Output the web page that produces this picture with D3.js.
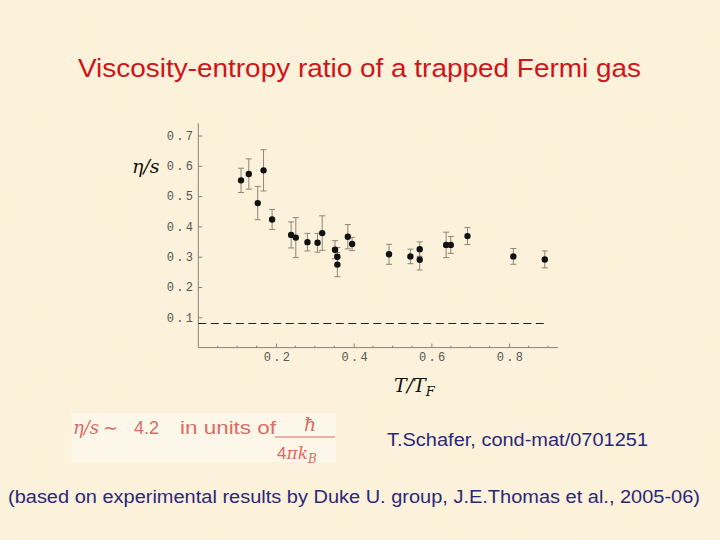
<!DOCTYPE html>
<html><head><meta charset="utf-8">
<script src="https://cdn.jsdelivr.net/npm/d3@7"></script>
<style>html,body{margin:0;padding:0;background:#fbefd5;}svg{display:block;}</style>
</head><body>
<script>
// ---- data ----
const tempRatio = [0.110,0.130,0.153,0.168,0.190,0.239,0.251,0.281,0.307,0.319,0.352,0.358,0.358,0.385,0.396,0.491,0.546,0.570,0.570,0.638,0.650,0.693,0.811,0.892];
const etaOverS  = [0.552,0.573,0.477,0.585,0.423,0.372,0.363,0.348,0.346,0.378,0.323,0.300,0.274,0.366,0.342,0.308,0.301,0.325,0.290,0.339,0.339,0.368,0.301,0.291];
const errors    = [0.040,0.050,0.055,0.068,0.033,0.043,0.066,0.029,0.031,0.057,0.030,0.030,0.040,0.040,0.022,0.033,0.024,0.024,0.034,0.042,0.028,0.028,0.026,0.028];
const xTicks = [0.2,0.4,0.6,0.8];
const yTicks = [0.1,0.2,0.3,0.4,0.5,0.6,0.7];
const kssBound = 1/(4*Math.PI);

const W=720,H=540;
const svg=d3.select("body").append("svg").attr("width",W).attr("height",H);
// background with subtle texture
const defs=svg.append("defs");
const f=defs.append("filter").attr("id","tex").attr("x",0).attr("y",0).attr("width","100%").attr("height","100%");
f.append("feTurbulence").attr("type","fractalNoise").attr("baseFrequency",0.03).attr("numOctaves",2).attr("seed",3).attr("result","n");
f.append("feColorMatrix").attr("in","n").attr("type","matrix")
 .attr("values","0 0 0 0 0.98  0 0 0 0 0.91  0 0 0 0 0.78  0 0 0 0.35 0").attr("result","c");
f.append("feComposite").attr("in","c").attr("in2","SourceGraphic").attr("operator","over");
svg.append("rect").attr("width",W).attr("height",H).attr("fill","#fcf2da");
svg.append("rect").attr("width",W).attr("height",H).attr("fill","#fcf2da").attr("filter","url(#tex)").attr("opacity",0.6);

const sans="Liberation Sans, Arial, sans-serif";
// title
svg.append("text").attr("x",78).attr("y",77)
  .attr("font-family",sans).attr("font-size",25).attr("fill","#d0141a")
  .attr("textLength",563).attr("lengthAdjust","spacingAndGlyphs")
  .text("Viscosity-entropy ratio of a trapped Fermi gas");

// scales
const x=d3.scaleLinear().domain([0,0.926]).range([198.3,558]);
const y=d3.scaleLinear().domain([0,0.74]).range([347.6,123.4]);

const axisCol="#8a8478";
const tickFont="Liberation Mono, DejaVu Sans Mono, monospace";
const fmt=d3.format(".1f");
// x axis
const xAxis=svg.append("g").attr("transform",`translate(0,${y(0)})`)
  .call(d3.axisBottom(x).tickValues(xTicks).tickSize(4).tickFormat(fmt));
xAxis.select(".domain").attr("stroke",axisCol).attr("d",`M${x(0)},0H${x(0.926)}`);
xAxis.selectAll(".tick line").attr("stroke",axisCol).attr("y1",-4).attr("y2",0);
xAxis.selectAll(".tick text").attr("font-family",tickFont).attr("font-size",12).attr("letter-spacing",2.3)
  .attr("fill","#555").attr("y",5).attr("dy","0.71em").attr("dx",1.5);
const minorX=d3.range(0.05,0.926,0.05).filter(v=>Math.abs(v*5-Math.round(v*5))>1e-6);
xAxis.selectAll(".mx").data(minorX).join("line").attr("x1",d=>x(d)).attr("x2",d=>x(d)).attr("y1",-2).attr("y2",0).attr("stroke",axisCol);

// y axis
const yAxis=svg.append("g").attr("transform",`translate(${x(0)},0)`)
  .call(d3.axisLeft(y).tickValues(yTicks).tickSize(4).tickFormat(fmt));
yAxis.select(".domain").attr("stroke",axisCol).attr("d",`M0,${y(0)}V${y(0.74)}`);
yAxis.selectAll(".tick line").attr("stroke",axisCol).attr("x1",0).attr("x2",4);
yAxis.selectAll(".tick text").attr("font-family",tickFont).attr("font-size",12).attr("letter-spacing",2.3)
  .attr("fill","#555").attr("x",-3);

// dashed KSS bound
svg.append("line").attr("x1",x(0)).attr("x2",x(0.9)).attr("y1",y(kssBound)).attr("y2",y(kssBound))
  .attr("stroke","#222").attr("stroke-width",1).attr("stroke-dasharray","8,4.5");

// error bars
const data=tempRatio.map((t,i)=>({t,v:etaOverS[i],e:errors[i]}));
const eb=svg.append("g").attr("stroke","#8c8578").attr("stroke-width",1);
eb.selectAll(".v").data(data).join("line").attr("x1",d=>x(d.t)).attr("x2",d=>x(d.t)).attr("y1",d=>y(d.v+d.e)).attr("y2",d=>y(d.v-d.e));
eb.selectAll(".t").data(data).join("line").attr("x1",d=>x(d.t)-3).attr("x2",d=>x(d.t)+3).attr("y1",d=>y(d.v+d.e)).attr("y2",d=>y(d.v+d.e));
eb.selectAll(".b").data(data).join("line").attr("x1",d=>x(d.t)-3).attr("x2",d=>x(d.t)+3).attr("y1",d=>y(d.v-d.e)).attr("y2",d=>y(d.v-d.e));
// points
svg.append("g").selectAll("path").data(data).join("path")
  .attr("transform",d=>`translate(${x(d.t)},${y(d.v)})`)
  .attr("d",d3.symbol().type(d3.symbolCircle).size(32)).attr("fill","#111");

// axis labels
const serif="DejaVu Serif, Liberation Serif, serif";
svg.append("text").attr("x",132).attr("y",173).attr("font-family",serif).attr("font-style","italic").attr("font-size",19).attr("fill","#111").text("η/s");
const xl=svg.append("text").attr("x",394).attr("y",392).attr("font-family",serif).attr("font-style","italic").attr("font-size",19).attr("fill","#111");
xl.append("tspan").text("T/T");
xl.append("tspan").attr("font-size",13).attr("dy",4).text("F");

// formula box
svg.append("rect").attr("x",71).attr("y",413).attr("width",265).attr("height",49).attr("fill","#fdf8ec").attr("opacity",0.85);
const pink="#dc6a62";
svg.append("text").attr("x",73).attr("y",434).attr("fill",pink).attr("font-size",18).attr("font-family",serif).attr("font-style","italic").text("η/s");
svg.append("text").attr("x",103).attr("y",434).attr("fill",pink).attr("font-size",18).attr("font-family",sans).text("∼");
svg.append("text").attr("x",134).attr("y",434).attr("fill",pink).attr("font-size",18).attr("font-family",sans).text("4.2");
svg.append("text").attr("x",180).attr("y",434).attr("fill",pink).attr("font-size",18).attr("font-family",sans).attr("textLength",96).attr("lengthAdjust","spacingAndGlyphs").text("in units of");
svg.append("text").attr("x",310).attr("y",431).attr("text-anchor","middle").attr("fill",pink).attr("font-family",serif).attr("font-style","italic").attr("font-size",19).text("ħ");
svg.append("line").attr("x1",275).attr("x2",335).attr("y1",437).attr("y2",437).attr("stroke",pink).attr("stroke-width",1.2);
const den=svg.append("text").attr("x",277).attr("y",459).attr("fill",pink).attr("font-size",17);
den.append("tspan").attr("font-family",sans).text("4");
den.append("tspan").attr("font-family",serif).attr("font-style","italic").text("πk");
den.append("tspan").attr("font-family",serif).attr("font-style","italic").attr("font-size",12).attr("dy",4).text("B");

// citations
const blue="#2b2878";
svg.append("text").attr("x",387).attr("y",446).attr("font-family",sans).attr("font-size",17.5).attr("fill",blue)
  .attr("textLength",261).attr("lengthAdjust","spacingAndGlyphs").text("T.Schafer, cond-mat/0701251");
svg.append("text").attr("x",8).attr("y",503).attr("font-family",sans).attr("font-size",17.5).attr("fill",blue)
  .attr("textLength",692).attr("lengthAdjust","spacingAndGlyphs").text("(based on experimental results by Duke U. group, J.E.Thomas et al., 2005-06)");
</script>
</body></html>
